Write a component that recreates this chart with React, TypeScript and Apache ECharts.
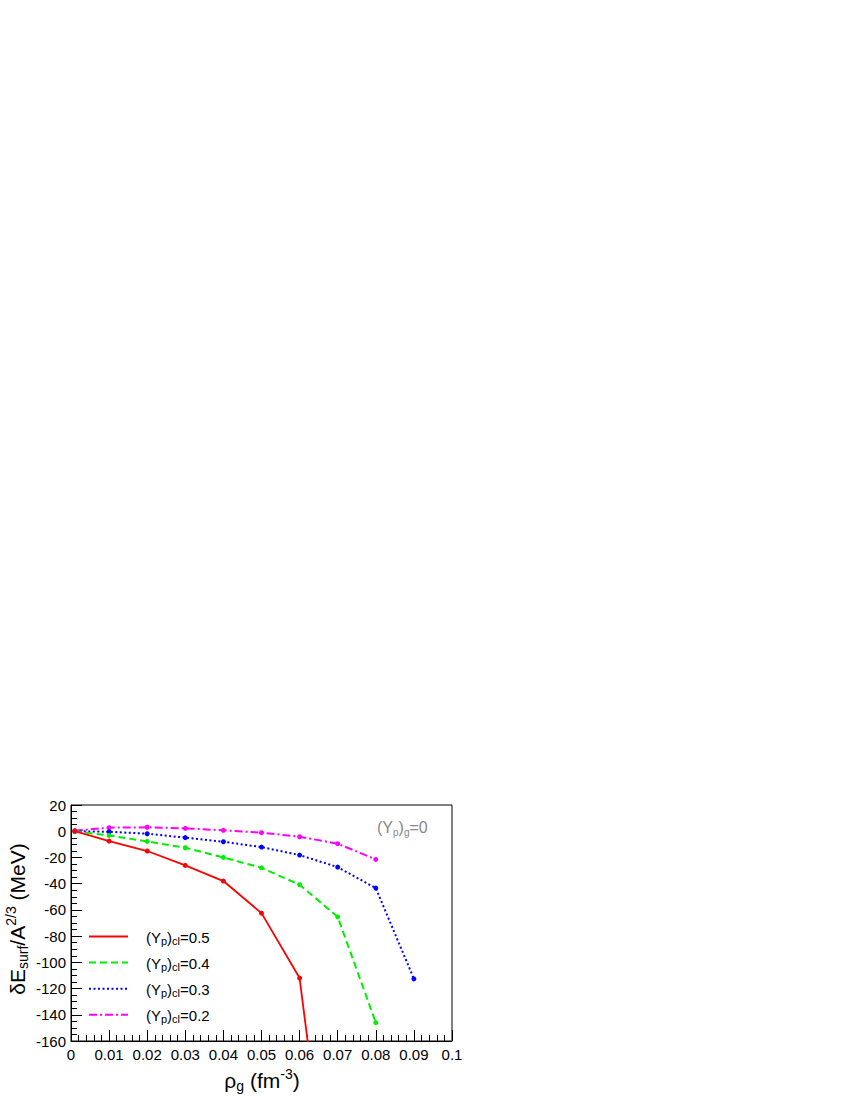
import React, { useEffect, useRef } from "react";
import * as echarts from "echarts";

const xValues = [0.001, 0.01, 0.02, 0.03, 0.04, 0.05, 0.06, 0.07, 0.08, 0.09];
const yp05 = [0, -7.5, -15.1, -26.1, -38, -62.5, -112, -340];
const yp04 = [0, -3.2, -7.8, -12.6, -20, -27.9, -40.8, -65.3, -146];
const yp03 = [0, -0.4, -1.9, -4.9, -8, -12.1, -18.2, -27.4, -43.4, -112.6];
const yp02 = [0.5, 2.7, 3.0, 2.2, 0.7, -1.1, -4.2, -9.5, -21.5];
const seriesLabels = ["0.5", "0.4", "0.3", "0.2"];
const seriesColors = ["#ff0000", "#00ee00", "#0000ff", "#ff00ff"];
const seriesDashes: (number[] | null)[] = [null, [7, 4], [2, 2.5], [8, 3, 2, 3]];
const allSeries = [yp05, yp04, yp03, yp02];

const FONT = "'Liberation Sans', Arial, Helvetica, sans-serif";

export default function App() {
  const ref = useRef<HTMLDivElement>(null);
  useEffect(() => {
    if (!ref.current) return;
    const chart = echarts.init(ref.current, undefined, { renderer: "svg" });

    const series = allSeries.map((vals, i) => ({
      type: "line",
      data: vals.map((v, j) => [xValues[j], v]),
      symbol: "circle",
      symbolSize: 5,
      clip: true,
      itemStyle: { color: seriesColors[i] },
      lineStyle: {
        color: seriesColors[i],
        width: i === 0 ? 1.8 : 2,
        type: seriesDashes[i] ? (seriesDashes[i] as number[]) : "solid",
      },
      z: 10 - i,
    }));

    const legendGraphics: any[] = [];
    const legendY = [936.5, 962.5, 988.7, 1014.7];
    seriesLabels.forEach((lab, i) => {
      legendGraphics.push({
        type: "line",
        shape: { x1: 89, y1: legendY[i], x2: 128, y2: legendY[i] },
        style: {
          stroke: seriesColors[i],
          lineWidth: 2,
          lineDash: seriesDashes[i] || undefined,
        },
      });
      legendGraphics.push({
        type: "text",
        x: 146,
        y: legendY[i] + 1,
        style: {
          text: "(Y{sub|p}){sub|cl}=" + lab,
          font: `15px ${FONT}`,
          fill: "#000",
          align: "left",
          verticalAlign: "middle",
          lineHeight: 18,
          rich: {
            sub: { fontSize: 11, lineHeight: 11, verticalAlign: "bottom", fontFamily: FONT },
          },
        },
      });
    });

    const option: any = {
      animation: false,
      backgroundColor: "#fff",
      grid: {
        left: 71,
        top: 805,
        width: 381,
        height: 236,
        show: true,
        borderColor: "#000",
        borderWidth: 1,
        backgroundColor: "transparent",
      },
      xAxis: {
        type: "value",
        min: 0,
        max: 0.1,
        interval: 0.01,
        axisLine: { show: true, onZero: false, lineStyle: { color: "#000", width: 1 } },
        axisTick: { show: true, inside: true, length: 11, lineStyle: { color: "#000" } },
        minorTick: { show: true, splitNumber: 5, length: 6, lineStyle: { color: "#000" } },
        splitLine: { show: false },
        minorSplitLine: { show: false },
        axisLabel: {
          color: "#000",
          fontSize: 15,
          fontFamily: FONT,
          margin: 6,
          formatter: (v: number) => String(Number(v.toFixed(3))),
        },
      },
      yAxis: {
        type: "value",
        min: -160,
        max: 20,
        interval: 20,
        axisLine: { show: true, onZero: false, lineStyle: { color: "#000", width: 1 } },
        axisTick: { show: true, inside: true, length: 11, lineStyle: { color: "#000" } },
        minorTick: { show: true, splitNumber: 4, length: 6, lineStyle: { color: "#000" } },
        splitLine: { show: false },
        minorSplitLine: { show: false },
        axisLabel: {
          color: "#000",
          fontSize: 15,
          fontFamily: FONT,
          margin: 5,
        },
      },
      series,
      graphic: [
        ...legendGraphics,
        {
          type: "text",
          x: 17,
          y: 919,
          rotation: Math.PI / 2,
          style: {
            text: "δE{sub|surf}/A{sup|2/3} (MeV)",
            font: `21px ${FONT}`,
            fill: "#000",
            align: "center",
            verticalAlign: "middle",
            lineHeight: 26,
            rich: {
              sub: { fontSize: 14, lineHeight: 14, verticalAlign: "bottom", fontFamily: FONT },
              sup: { fontSize: 14, lineHeight: 14, verticalAlign: "top", fontFamily: FONT },
            },
          },
        },
        {
          type: "text",
          x: 262,
          y: 1080,
          style: {
            text: "ρ{sub|g} (fm{sup|-3})",
            font: `21px ${FONT}`,
            fill: "#000",
            align: "center",
            verticalAlign: "middle",
            lineHeight: 26,
            rich: {
              sub: { fontSize: 14, lineHeight: 14, verticalAlign: "bottom", fontFamily: FONT },
              sup: { fontSize: 14, lineHeight: 14, verticalAlign: "top", fontFamily: FONT },
            },
          },
        },
        {
          type: "text",
          x: 377,
          y: 827,
          style: {
            text: "(Y{sub|p}){sub|g}=0",
            font: `16px ${FONT}`,
            fill: "#888",
            align: "left",
            verticalAlign: "middle",
            lineHeight: 20,
            rich: {
              sub: { fontSize: 10, lineHeight: 10, verticalAlign: "bottom", fill: "#888", fontFamily: FONT },
            },
          },
        },
      ],
    };
    chart.setOption(option);
    return () => chart.dispose();
  }, []);
  return (
    <div
      ref={ref}
      style={{ position: "absolute", left: 0, top: 0, width: 850, height: 1100 }}
    />
  );
}
